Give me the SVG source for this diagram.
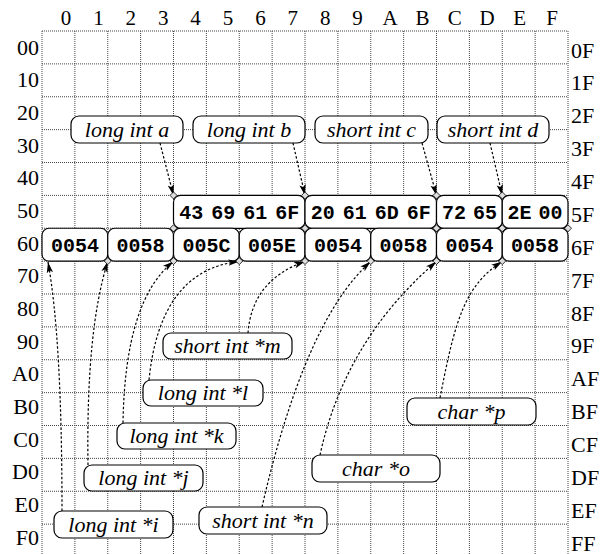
<svg xmlns="http://www.w3.org/2000/svg" width="610" height="554" viewBox="0 0 610 554">
<style>
.grid line{stroke:#444;stroke-width:1;stroke-dasharray:1,1}
.ax{font-family:'Liberation Serif','Times New Roman',Times,serif;font-size:22px;fill:#000}
.top{font-family:'Liberation Serif','Times New Roman',Times,serif;font-size:21px;fill:#000;text-anchor:middle}
.cell rect{fill:#fff;stroke:#000;stroke-width:1.2}
.cell text{font-family:'Liberation Mono','Courier New',Courier,monospace;font-weight:bold;font-size:20px;text-anchor:middle;fill:#000}
.lab rect{fill:#fff;stroke:#000;stroke-width:1.2}
.lab text{font-family:'Liberation Serif','Times New Roman',Times,serif;font-style:italic;font-size:22px;text-anchor:middle;fill:#000}
.conn path{fill:none;stroke:#000;stroke-width:1.2;stroke-dasharray:2.5,2}
.dia{fill:#ddd;stroke:#000;stroke-width:0.8}
</style>
<defs>
<marker id="ah" markerWidth="12" markerHeight="8" refX="11" refY="4" orient="auto" markerUnits="userSpaceOnUse">
<path d="M0,0.8 L11,4 L0,7.2 L2.5,4 Z" fill="#000"/>
</marker>
<path id="dm" class="dia" d="M0,-3.5 L3.5,0 L0,3.5 L-3.5,0 Z"/>
</defs>
<rect width="610" height="554" fill="#fff"/>
<g class="grid">
<line x1="42" y1="31" x2="42" y2="554"/><line x1="74.875" y1="31" x2="74.875" y2="554"/><line x1="107.75" y1="31" x2="107.75" y2="554"/><line x1="140.625" y1="31" x2="140.625" y2="554"/><line x1="173.5" y1="31" x2="173.5" y2="554"/><line x1="206.375" y1="31" x2="206.375" y2="554"/><line x1="239.25" y1="31" x2="239.25" y2="554"/><line x1="272.125" y1="31" x2="272.125" y2="554"/><line x1="305" y1="31" x2="305" y2="554"/><line x1="337.875" y1="31" x2="337.875" y2="554"/><line x1="370.75" y1="31" x2="370.75" y2="554"/><line x1="403.625" y1="31" x2="403.625" y2="554"/><line x1="436.5" y1="31" x2="436.5" y2="554"/><line x1="469.375" y1="31" x2="469.375" y2="554"/><line x1="502.25" y1="31" x2="502.25" y2="554"/><line x1="535.125" y1="31" x2="535.125" y2="554"/><line x1="568" y1="31" x2="568" y2="554"/>
<line x1="42" y1="31" x2="568" y2="31"/><line x1="42" y1="63.875" x2="568" y2="63.875"/><line x1="42" y1="96.75" x2="568" y2="96.75"/><line x1="42" y1="129.625" x2="568" y2="129.625"/><line x1="42" y1="162.5" x2="568" y2="162.5"/><line x1="42" y1="195.375" x2="568" y2="195.375"/><line x1="42" y1="228.25" x2="568" y2="228.25"/><line x1="42" y1="261.125" x2="568" y2="261.125"/><line x1="42" y1="294" x2="568" y2="294"/><line x1="42" y1="326.875" x2="568" y2="326.875"/><line x1="42" y1="359.75" x2="568" y2="359.75"/><line x1="42" y1="392.625" x2="568" y2="392.625"/><line x1="42" y1="425.5" x2="568" y2="425.5"/><line x1="42" y1="458.375" x2="568" y2="458.375"/><line x1="42" y1="491.25" x2="568" y2="491.25"/><line x1="42" y1="524.125" x2="568" y2="524.125"/>
</g>
<g id="col-labels">
<text class="top" x="66" y="25">0</text><text class="top" x="98.4" y="25">1</text><text class="top" x="130.8" y="25">2</text><text class="top" x="163.2" y="25">3</text><text class="top" x="195.6" y="25">4</text><text class="top" x="228" y="25">5</text><text class="top" x="260.4" y="25">6</text><text class="top" x="292.8" y="25">7</text><text class="top" x="325.2" y="25">8</text><text class="top" x="357.6" y="25">9</text><text class="top" x="390" y="25">A</text><text class="top" x="422.4" y="25">B</text><text class="top" x="454.8" y="25">C</text><text class="top" x="487.2" y="25">D</text><text class="top" x="519.6" y="25">E</text><text class="top" x="552" y="25">F</text>
</g>
<g id="row-labels-left" class="ax" text-anchor="end">
<text x="39" y="54.5">00</text><text x="39" y="87.2">10</text><text x="39" y="119.8">20</text><text x="39" y="152.5">30</text><text x="39" y="185.2">40</text><text x="39" y="217.8">50</text><text x="39" y="250.5">60</text><text x="39" y="283.2">70</text><text x="39" y="315.9">80</text><text x="39" y="348.5">90</text><text x="39" y="381.2">A0</text><text x="39" y="413.9">B0</text><text x="39" y="446.5">C0</text><text x="39" y="479.2">D0</text><text x="39" y="511.9">E0</text><text x="39" y="544.5">F0</text>
</g>
<g id="row-labels-right" class="ax">
<text x="571" y="57.5">0F</text><text x="571" y="90.4">1F</text><text x="571" y="123.2">2F</text><text x="571" y="156.1">3F</text><text x="571" y="189">4F</text><text x="571" y="221.9">5F</text><text x="571" y="254.7">6F</text><text x="571" y="287.6">7F</text><text x="571" y="320.5">8F</text><text x="571" y="353.3">9F</text><text x="571" y="386.2">AF</text><text x="571" y="419.1">BF</text><text x="571" y="451.9">CF</text><text x="571" y="484.8">DF</text><text x="571" y="517.7">EF</text><text x="571" y="550.5">FF</text>
</g>
<g id="row5">
<g id="c40" class="cell"><rect x="173.5" y="195.4" width="131.5" height="32.9" rx="7"/><text x="239.25" y="219" style="word-spacing:-4px">43 69 61 6F</text></g>
<g id="c48" class="cell"><rect x="305" y="195.4" width="131.5" height="32.9" rx="7"/><text x="370.75" y="219" style="word-spacing:-4px">20 61 6D 6F</text></g>
<g id="c4c" class="cell"><rect x="436.5" y="195.4" width="65.75" height="32.9" rx="7"/><text x="469.4" y="219" style="word-spacing:-5px">72 65</text></g>
<g id="c4e" class="cell"><rect x="502.25" y="195.4" width="65.75" height="32.9" rx="7"/><text x="535.1" y="219" style="word-spacing:-5px">2E 00</text></g>
</g>
<g id="row6">
<g id="c50" class="cell"><rect x="42" y="228.25" width="65.75" height="32.9" rx="7"/><text x="74.9" y="251.5">0054</text></g>
<g id="c52" class="cell"><rect x="107.75" y="228.25" width="65.75" height="32.9" rx="7"/><text x="140.6" y="251.5">0058</text></g>
<g id="c54" class="cell"><rect x="173.5" y="228.25" width="65.75" height="32.9" rx="7"/><text x="206.4" y="251.5">005C</text></g>
<g id="c56" class="cell"><rect x="239.25" y="228.25" width="65.75" height="32.9" rx="7"/><text x="272.1" y="251.5">005E</text></g>
<g id="c58" class="cell"><rect x="305" y="228.25" width="65.75" height="32.9" rx="7"/><text x="337.9" y="251.5">0054</text></g>
<g id="c5a" class="cell"><rect x="370.75" y="228.25" width="65.75" height="32.9" rx="7"/><text x="403.6" y="251.5">0058</text></g>
<g id="c5c" class="cell"><rect x="436.5" y="228.25" width="65.75" height="32.9" rx="7"/><text x="469.4" y="251.5">0054</text></g>
<g id="c5e" class="cell"><rect x="502.25" y="228.25" width="65.75" height="32.9" rx="7"/><text x="535.1" y="251.5">0058</text></g>
</g>
<g id="labels">
<g id="la" class="lab"><rect x="71" y="116" width="112" height="27" rx="8"/><text x="127" y="136.5">long int a</text></g>
<g id="lb" class="lab"><rect x="193" y="116" width="112" height="27" rx="8"/><text x="249" y="136.5">long int b</text></g>
<g id="lc" class="lab"><rect x="315" y="116" width="113" height="27" rx="8"/><text x="371.5" y="136.5">short int c</text></g>
<g id="ld" class="lab"><rect x="437" y="116" width="112" height="27" rx="8"/><text x="493" y="136.5">short int d</text></g>
<g id="lm" class="lab"><rect x="163" y="333" width="129" height="26" rx="8"/><text x="227.5" y="353">short int *m</text></g>
<g id="ll" class="lab"><rect x="143" y="380" width="120" height="26" rx="8"/><text x="203" y="400">long int *l</text></g>
<g id="lk" class="lab"><rect x="117" y="423" width="119" height="26" rx="8"/><text x="176.5" y="443">long int *k</text></g>
<g id="lj" class="lab"><rect x="84" y="465" width="119" height="26" rx="8"/><text x="143.5" y="485">long int *j</text></g>
<g id="li" class="lab"><rect x="54" y="511" width="119" height="27" rx="8"/><text x="113.5" y="531.5">long int *i</text></g>
<g id="ln" class="lab"><rect x="199" y="507" width="128" height="27" rx="8"/><text x="263" y="527.5">short int *n</text></g>
<g id="lo" class="lab"><rect x="312" y="455" width="128" height="27" rx="8"/><text x="376" y="475.5">char *o</text></g>
<g id="lp" class="lab"><rect x="407" y="398" width="129" height="27" rx="8"/><text x="471.5" y="418.5">char *p</text></g>
</g>
<g id="connectors" class="conn">
<path d="M160,143 L173.5,195.4" marker-end="url(#ah)"/>
<path d="M293,143 L305,195.4" marker-end="url(#ah)"/>
<path d="M422,143 L436.5,195.4" marker-end="url(#ah)"/>
<path d="M490,143 L502.25,195.4" marker-end="url(#ah)"/>
<path d="M62,511 Q62,340 48,262" marker-end="url(#ah)"/>
<path d="M88,465 Q86,330 107.75,261.5" marker-end="url(#ah)"/>
<path d="M123,423 Q125,300 173.5,261.5" marker-end="url(#ah)"/>
<path d="M149,380 Q160,270 239.25,261.5" marker-end="url(#ah)"/>
<path d="M248,333 Q252,280 305,261.5" marker-end="url(#ah)"/>
<path d="M262,507 Q305,320 370.75,261.5" marker-end="url(#ah)"/>
<path d="M320,455 Q345,340 436.5,261.5" marker-end="url(#ah)"/>
<path d="M440,398 C455,320 465,285 502.25,261.5" marker-end="url(#ah)"/>
</g>
<g id="points">
<use href="#dm" x="173.5" y="195.4"/><use href="#dm" x="305" y="195.4"/><use href="#dm" x="436.5" y="195.4"/><use href="#dm" x="502.25" y="195.4"/>
<use href="#dm" x="173.5" y="228.25"/><use href="#dm" x="305" y="228.25"/><use href="#dm" x="436.5" y="228.25"/><use href="#dm" x="502.25" y="228.25"/><use href="#dm" x="568" y="228.25"/>
<use href="#dm" x="107.75" y="261.1"/><use href="#dm" x="173.5" y="261.1"/><use href="#dm" x="239.25" y="261.1"/><use href="#dm" x="305" y="261.1"/><use href="#dm" x="370.75" y="261.1"/><use href="#dm" x="436.5" y="261.1"/><use href="#dm" x="502.25" y="261.1"/>
</g>
</svg>
